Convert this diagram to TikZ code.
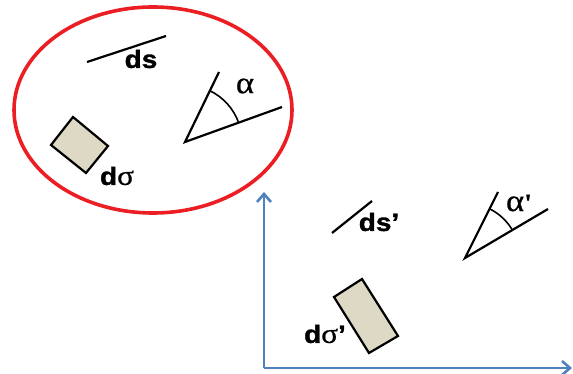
\documentclass[tikz,border=0pt]{standalone}
\usepackage{fontspec}
\usepackage{graphicx}
\setmainfont{Liberation Sans}[BoldFont={Liberation Sans Bold}, BoldFeatures={FakeBold=1.2}]
\newfontfamily\greekserif{Liberation Serif}[FakeBold=0.6]
\usetikzlibrary{arrows.meta,shapes.geometric}
\definecolor{ringred}{RGB}{235,30,35}
\definecolor{axisblue}{RGB}{79,129,189}
\definecolor{patch}{RGB}{221,217,196}
\tikzset{
  segment/.style={line width=2.2pt, black},
  patchbox/.style={line width=2.2pt, black, fill=patch, line join=miter},
  axisline/.style={line width=2.8pt, axisblue, -{Straight Barb[length=8pt,width=14pt,line width=2.6pt]}},
  lbl/.style={inner sep=0pt, font=\fontsize{25}{25}\selectfont\bfseries},
  anglbl/.style={inner sep=0pt, font=\fontsize{31}{31}\selectfont\greekserif}
}
\newcommand{\wide}[1]{\scalebox{1.12}[1]{#1}}
\newcommand{\sig}{{\mdseries\greekserif\fontsize{28}{28}\selectfont σ}}
\begin{document}
\begin{tikzpicture}[x=1pt,y=1pt]
\useasboundingbox (0,0) rectangle (573,374);

% region boundary
\node[draw=ringred, line width=3.6pt, ellipse, minimum width=278pt, minimum height=206pt, inner sep=0pt] (ring) at (153,264) {};

% line element ds
\coordinate (dsA) at (87,312);
\coordinate (dsB) at (166,338);
\draw[segment] (dsA) -- (dsB);
\node[lbl] (ds) at (141,315) {\wide{ds}};

% angle alpha
\coordinate (va) at (185,232);
\coordinate (va1) at (219,302);
\coordinate (va2) at (282,267);
\draw[segment] (va1) -- (va) -- (va2);
\draw[line width=1.6pt] ([shift={(19.8:57pt)}]va) arc[start angle=19.8, end angle=64.1, radius=57pt];
\node[anglbl] (alpha) at (245,288) {\wide{α}};

% surface element dsigma
\coordinate (p1) at (73,257);
\coordinate (p2) at (108,228);
\coordinate (p3) at (86,201);
\coordinate (p4) at (51,229);
\draw[patchbox] (p1) -- (p2) -- (p3) -- (p4) -- cycle;
\node[lbl] (dsig) at (117,198) {\wide{d\sig}};

% axes
\coordinate (O) at (264,6);
\coordinate (Ytop) at (264,182);
\coordinate (Xend) at (572,6);
\draw[axisline] (O) -- (Ytop);
\draw[axisline] (O) -- (Xend);

% line element ds'
\coordinate (dsA') at (332,141);
\coordinate (dsB') at (372,173);
\draw[segment] (dsA') -- (dsB');
\node[lbl] (dsp) at (379,152) {\wide{ds’}};

% angle alpha'
\coordinate (vb) at (465,116);
\coordinate (vb1) at (498,182);
\coordinate (vb2) at (548,165);
\draw[segment] (vb1) -- (vb) -- (vb2);
\draw[line width=1.6pt] ([shift={(30.6:55pt)}]vb) arc[start angle=30.6, end angle=63.4, radius=55pt];
\node[anglbl] (alphap) at (519,171) {\wide{α{\bfseries\fontsize{25}{25}\selectfont\textquotesingle}}};

% surface element dsigma'
\coordinate (q1) at (334,77);
\coordinate (q2) at (362,95);
\coordinate (q3) at (398,38);
\coordinate (q4) at (369,21);
\draw[patchbox] (q1) -- (q2) -- (q3) -- (q4) -- cycle;
\node[lbl] (dsigp) at (325,40) {\wide{d\sig’}};
\end{tikzpicture}
\end{document}
